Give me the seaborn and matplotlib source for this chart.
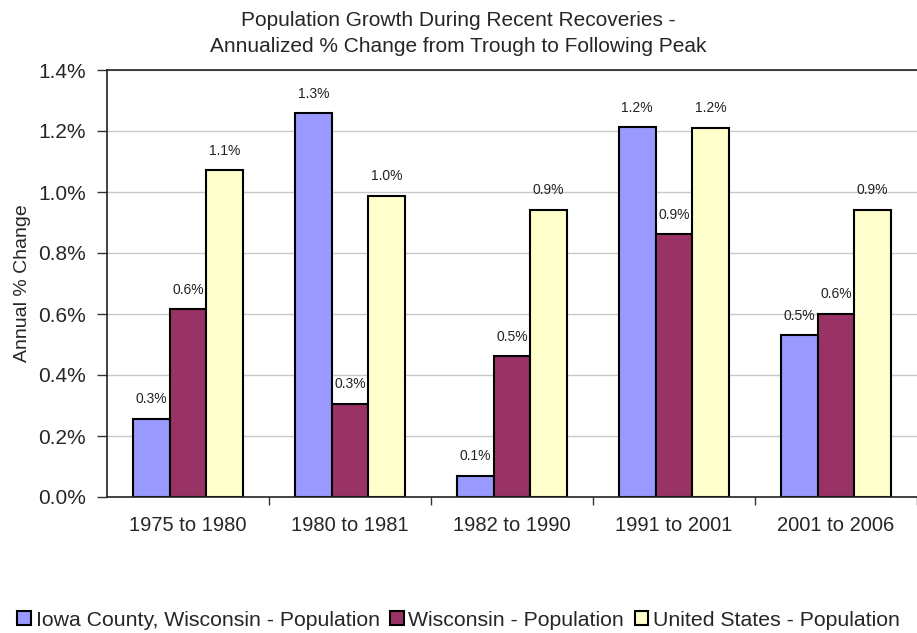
import pandas as pd
import numpy as np
import matplotlib.pyplot as plt
import seaborn as sns
from matplotlib.ticker import FuncFormatter, FixedLocator

periods = ['1975 to 1980', '1980 to 1981', '1982 to 1990', '1991 to 2001', '2001 to 2006']
series = ['Iowa County, Wisconsin - Population', 'Wisconsin - Population', 'United States - Population']
iowa_county = [0.256, 1.259, 0.069, 1.213, 0.531]
wisconsin = [0.616, 0.305, 0.462, 0.862, 0.600]
united_states = [1.072, 0.987, 0.941, 1.210, 0.941]
colors = ['#9999FF', '#993366', '#FFFFCC']

df = pd.DataFrame({
    'period': periods * 3,
    'series': np.repeat(series, len(periods)),
    'value': iowa_county + wisconsin + united_states,
})

sns.set_theme(style="white")
plt.rcParams['font.family'] = ['Liberation Sans', 'DejaVu Sans']

fig = plt.figure(figsize=(9.17, 6.33), dpi=100)
ax = fig.add_axes([107 / 917, 1 - 497 / 633, 810 / 917, 427 / 633])

sns.barplot(data=df, x='period', y='value', hue='series', order=periods,
            hue_order=series, palette=colors, width=0.68, saturation=1,
            edgecolor='black', linewidth=1.5, ax=ax, legend=True)

# data labels above bars
for cont in ax.containers:
    ax.bar_label(cont, labels=[f'{b.get_height():.1f}%' for b in cont],
                 padding=9, fontsize=10, color='#222222')

ax.set_ylim(0, 1.4)
ax.set_xlim(-0.5, 4.5)
ax.set_yticks(np.arange(0, 1.41, 0.2))
ax.yaxis.set_major_formatter(FuncFormatter(lambda v, p: f'{v:.1f}%'))
ax.yaxis.grid(True, color='#c8c8c8', linewidth=1)
ax.set_axisbelow(True)
ax.tick_params(axis='y', which='major', direction='out', length=7, width=1,
               color='#333333', left=True, labelsize=15, pad=8)
ax.tick_params(axis='x', which='major', length=0, labelsize=14.5, pad=14)
ax.xaxis.set_minor_locator(FixedLocator([0.5, 1.5, 2.5, 3.5, 4.5]))
ax.tick_params(axis='x', which='minor', direction='out', length=6, width=1,
               color='#333333', bottom=True)

ax.spines['right'].set_visible(False)
for side in ['left', 'bottom', 'top']:
    ax.spines[side].set_color('#222222')
    ax.spines[side].set_linewidth(1.2)

ax.set_xlabel('')
ax.set_ylabel('Annual % Change', fontsize=14, labelpad=5)

fig.suptitle('Population Growth During Recent Recoveries -\n'
             'Annualized % Change from Trough to Following Peak',
             fontsize=15, y=0.983, linespacing=1.5)

handles, labels = ax.get_legend_handles_labels()
ax.get_legend().remove()
fig.legend(handles, labels, loc='center', bbox_to_anchor=(0.5, 1 - 620 / 633),
           ncol=3, frameon=False, fontsize=15.3, handlelength=0.65,
           handleheight=0.65, handletextpad=0.2, columnspacing=0.5,
           borderaxespad=0)

fig.savefig('out.png', dpi=100)
